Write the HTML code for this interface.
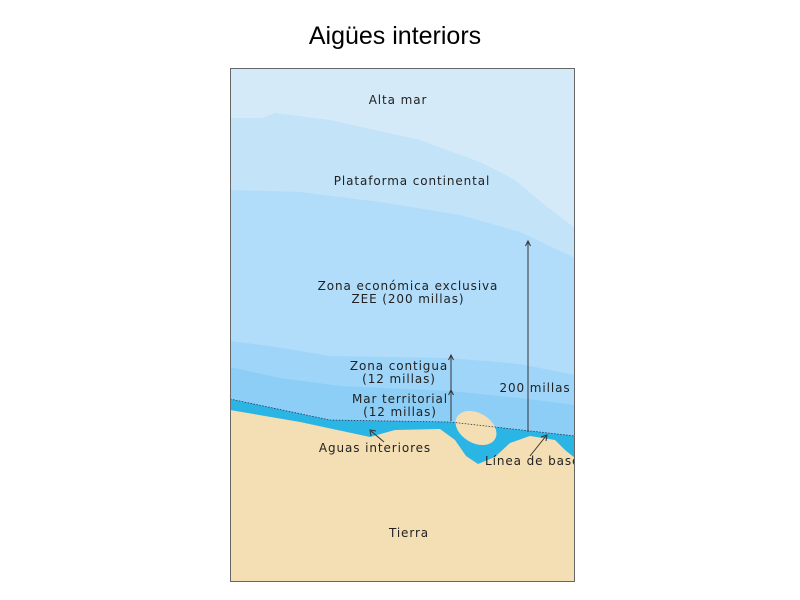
<!DOCTYPE html>
<html><head><meta charset="utf-8"><style>
html,body{margin:0;padding:0;background:#fff;width:800px;height:600px;overflow:hidden}
svg{display:block}
</style></head><body>
<svg width="800" height="600" viewBox="0 0 800 600" xmlns="http://www.w3.org/2000/svg">
<text x="395" y="44" text-anchor="middle" font-family="Liberation Sans, sans-serif" font-size="25" fill="#000">Aigües interiors</text>
<clipPath id="c"><rect x="230" y="68" width="345" height="514"/></clipPath>
<g clip-path="url(#c)">
<rect x="230" y="68" width="345" height="514" fill="#d5eaf8"/>
<path d="M230 118 L262 118 L275 113 L330 120 L420 140 L480 162 L515 180 L545 205 L575 228 L575 600 L230 600Z" fill="#c3e3f9"/>
<path d="M230 190 L300 192 L380 202 L460 215 L520 232 L575 258 L575 600 L230 600Z" fill="#b1ddfa"/>
<path d="M230 341 L270 346 L330 356 L450 358 L520 364 L575 375 L575 600 L230 600Z" fill="#9fd5f9"/>
<path d="M230 367 L280 378 L340 386 L450 391 L520 398 L575 405 L575 600 L230 600Z" fill="#8dcef7"/>
<path d="M230 399 L330 420 L450 422 L575 436 L575 600 L230 600Z" fill="#2bb5e5"/>
<path d="M230 410 L300 422 L370 437 L395 430 L440 429 L455 440 L466 456 L478 464 L495 457 L510 443 L530 436 L555 440 L565 450 L575 458 L575 600 L230 600Z" fill="#f4dfb5"/>
<ellipse cx="476" cy="428" rx="22" ry="15" transform="rotate(30 476 428)" fill="#f4dfb5"/>
<path d="M230 399 L330 420 L450 422 L575 436" fill="none" stroke="#335" stroke-width="0.8" stroke-dasharray="1.5 1.5"/>
<g font-family="DejaVu Sans, sans-serif" font-size="12" fill="#222" text-anchor="middle" letter-spacing="0.9">
<text x="398" y="104">Alta mar</text>
<text x="412" y="185">Plataforma continental</text>
<text x="408" y="290">Zona económica exclusiva</text>
<text x="408" y="303">ZEE (200 millas)</text>
<text x="399" y="370">Zona contigua</text>
<text x="399" y="383">(12 millas)</text>
<text x="400" y="403">Mar territorial</text>
<text x="400" y="416">(12 millas)</text>
<text x="535" y="392">200 millas</text>
<text x="375" y="452">Aguas interiores</text>
<text x="485" y="465" text-anchor="start">Línea de base</text>
<text x="409" y="537">Tierra</text>
</g>
</g>
<rect x="230.5" y="68.5" width="344" height="513" fill="none" stroke="#666" stroke-width="1"/>
<g stroke="#333" stroke-width="1" fill="none">
<line x1="528" y1="242" x2="528" y2="432"/>
<path d="M525.5 246 L528 241 L530.5 246"/>
<line x1="451" y1="356" x2="451" y2="421"/>
<path d="M448.5 360 L451 355 L453.5 360"/>
<path d="M448.5 395 L451 390 L453.5 395"/>
<line x1="384" y1="442" x2="371" y2="431"/>
<path d="M371 436 L370 430 L376 431"/>
<line x1="530" y1="456" x2="546" y2="436"/>
<path d="M541 437 L547 435 L546 441"/>
</g>
</svg>
</body></html>
